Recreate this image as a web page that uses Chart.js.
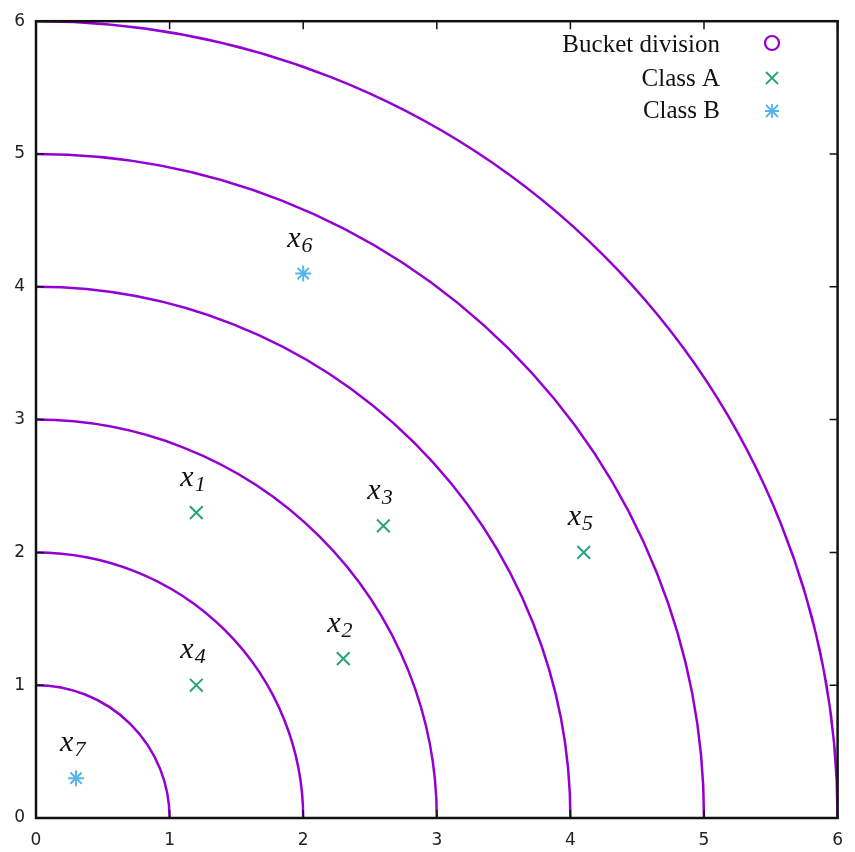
<!DOCTYPE html>
<html>
<head>
<meta charset="utf-8">
<style>
html,body{margin:0;padding:0;background:#fff;}
#wrap{width:855px;height:852px;position:relative;}
</style>
<script src="https://cdn.jsdelivr.net/npm/chart.js@4.4.1/dist/chart.umd.min.js"></script>
</head>
<body>
<div id="wrap"><canvas id="c" width="855" height="852"></canvas></div>
<script>
// Data
const bucketRadii = [1, 2, 3, 4, 5, 6];
const classAX = [1.2, 2.3, 2.6, 1.2, 4.1];
const classAY = [2.3, 1.2, 2.2, 1.0, 2.0];
const classALabels = ['1', '2', '3', '4', '5'];
const classBX = [2.0, 0.3];
const classBY = [4.1, 0.3];
const classBLabels = ['6', '7'];
const tickValues = [0, 1, 2, 3, 4, 5, 6];
const legendLabels = ['Bucket division', 'Class A', 'Class B'];

const PURPLE = '#9400D3';
const GREEN = '#2BA37A';
const BLUE = '#56B4E9';

const ptsA = classAX.map((x, i) => ({x, y: classAY[i]}));
const ptsB = classBX.map((x, i) => ({x, y: classBY[i]}));

const framePlugin = {
  id: 'frame',
  beforeDatasetsDraw(chart) {
    const {ctx, chartArea: a, scales: {x, y}} = chart;
    ctx.save();
    ctx.beginPath();
    ctx.rect(a.left, a.top, a.right - a.left, a.bottom - a.top);
    ctx.clip();
    ctx.strokeStyle = PURPLE;
    ctx.lineWidth = 2.5;
    const cx = x.getPixelForValue(0), cy = y.getPixelForValue(0);
    bucketRadii.forEach(r => {
      const rx = x.getPixelForValue(r) - cx;
      const ry = cy - y.getPixelForValue(r);
      ctx.beginPath();
      ctx.ellipse(cx, cy, rx, ry, 0, -Math.PI / 2, 0);
      ctx.stroke();
    });
    ctx.restore();
  },
  afterDraw(chart) {
    const {ctx, chartArea: a, scales: {x, y}} = chart;
    ctx.save();
    // frame
    ctx.strokeStyle = '#111';
    ctx.lineWidth = 2.5;
    ctx.strokeRect(a.left, a.top, a.right - a.left, a.bottom - a.top);
    // inward ticks on all sides
    ctx.lineWidth = 1.5;
    const tl = 8;
    tickValues.forEach(v => {
      const px = x.getPixelForValue(v);
      const py = y.getPixelForValue(v);
      ctx.beginPath();
      ctx.moveTo(px, a.bottom); ctx.lineTo(px, a.bottom - tl);
      ctx.moveTo(px, a.top); ctx.lineTo(px, a.top + tl);
      ctx.moveTo(a.left, py); ctx.lineTo(a.left + tl, py);
      ctx.moveTo(a.right, py); ctx.lineTo(a.right - tl, py);
      ctx.stroke();
    });
    // point labels
    const drawLabel = (px, py, sub) => {
      ctx.fillStyle = '#111';
      ctx.textAlign = 'left';
      ctx.textBaseline = 'alphabetic';
      ctx.font = 'italic 30px "Liberation Serif", serif';
      const sx = px - 16, sy = py - 27;
      ctx.fillText('x', sx, sy);
      const w = ctx.measureText('x').width;
      ctx.font = 'italic 22px "Liberation Serif", serif';
      ctx.fillText(sub, sx + w + 1, sy + 5);
    };
    ptsA.forEach((p, i) => drawLabel(x.getPixelForValue(p.x), y.getPixelForValue(p.y), classALabels[i]));
    ptsB.forEach((p, i) => drawLabel(x.getPixelForValue(p.x), y.getPixelForValue(p.y), classBLabels[i]));
    // legend
    ctx.font = '25px "Liberation Serif", serif';
    ctx.fillStyle = '#111';
    ctx.textAlign = 'right';
    ctx.textBaseline = 'alphabetic';
    const baselines = [52, 86, 118];
    const symY = [43, 78, 111];
    legendLabels.forEach((t, i) => ctx.fillText(t, 720, baselines[i]));
    const sx = 772;
    ctx.lineWidth = 2.2;
    ctx.strokeStyle = PURPLE;
    ctx.beginPath(); ctx.arc(sx, symY[0], 7, 0, Math.PI * 2); ctx.stroke();
    ctx.strokeStyle = GREEN; ctx.lineWidth = 1.8;
    ctx.beginPath();
    ctx.moveTo(sx - 6, symY[1] - 6); ctx.lineTo(sx + 6, symY[1] + 6);
    ctx.moveTo(sx + 6, symY[1] - 6); ctx.lineTo(sx - 6, symY[1] + 6);
    ctx.stroke();
    ctx.strokeStyle = BLUE;
    ctx.beginPath();
    ctx.moveTo(sx - 6, symY[2] - 6); ctx.lineTo(sx + 6, symY[2] + 6);
    ctx.moveTo(sx + 6, symY[2] - 6); ctx.lineTo(sx - 6, symY[2] + 6);
    ctx.moveTo(sx, symY[2] - 7); ctx.lineTo(sx, symY[2] + 7);
    ctx.moveTo(sx - 7, symY[2]); ctx.lineTo(sx + 7, symY[2]);
    ctx.stroke();
    ctx.restore();
  }
};

new Chart(document.getElementById('c'), {
  type: 'scatter',
  data: {
    datasets: [
      {label: 'Class A', data: ptsA, pointStyle: 'crossRot', radius: 9, borderColor: GREEN, backgroundColor: GREEN, borderWidth: 2},
      {label: 'Class B', data: ptsB, pointStyle: 'star', radius: 8, borderColor: BLUE, backgroundColor: BLUE, borderWidth: 2}
    ]
  },
  options: {
    responsive: false,
    animation: false,
    events: [],
    layout: {padding: {left: 0, top: 18, right: 17, bottom: 0}},
    plugins: {legend: {display: false}, tooltip: {enabled: false}},
    scales: {
      x: {
        type: 'linear', min: 0, max: 6,
        afterBuildTicks: s => { s.ticks = tickValues.map(v => ({value: v})); },
        afterFit: s => { s.height = 34; },
        grid: {display: false, drawTicks: false},
        border: {display: false},
        ticks: {padding: 12, color: '#222', font: {family: '"DejaVu Sans", sans-serif', size: 17}}
      },
      y: {
        type: 'linear', min: 0, max: 6,
        afterBuildTicks: s => { s.ticks = tickValues.map(v => ({value: v})); },
        afterFit: s => { s.width = 36; },
        grid: {display: false, drawTicks: false},
        border: {display: false},
        ticks: {padding: 11, color: '#222', font: {family: '"DejaVu Sans", sans-serif', size: 17}}
      }
    }
  },
  plugins: [framePlugin]
});
</script>
</body>
</html>
